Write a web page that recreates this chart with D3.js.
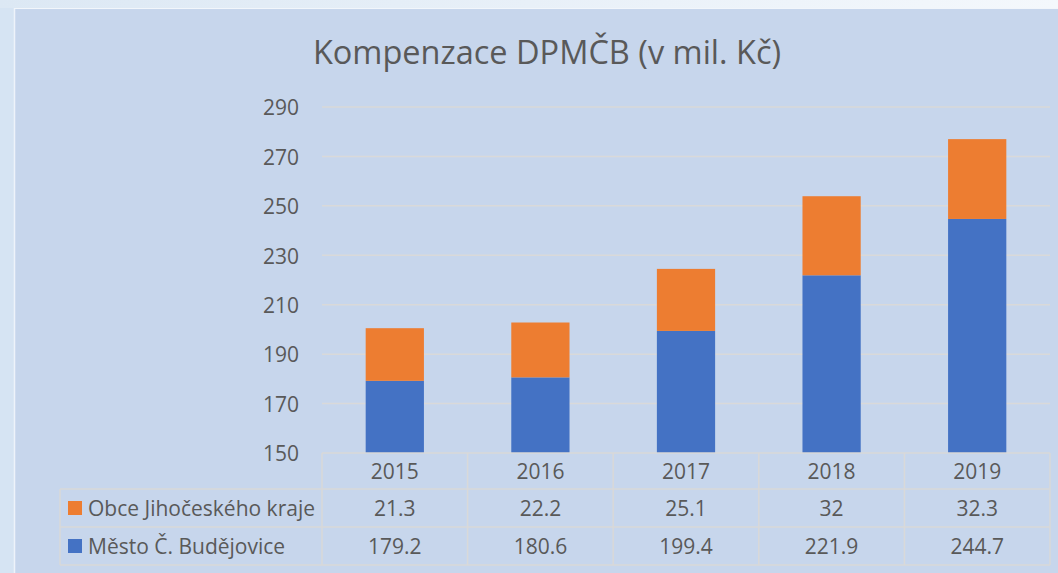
<!DOCTYPE html>
<html><head><meta charset="utf-8">
<script src="https://cdn.jsdelivr.net/npm/d3@7"></script>
<style>
html,body{margin:0;padding:0;background:#d6e4f3;}
svg{display:block;font-family:"Open Sans",sans-serif;}
</style></head>
<body>
<svg id="c" width="1058" height="573"></svg>
<script>
const years = ["2015","2016","2017","2018","2019"];
const seriesNames = ["Obce Jihočeského kraje","Město Č. Budějovice"];
const obce = [21.3,22.2,25.1,32,32.3];
const mesto = [179.2,180.6,199.4,221.9,244.7];
const yTicks = [150,170,190,210,230,250,270,290];
const colors = ["#ed7d31","#4472c4"];
const title = "Kompenzace DPMČB (v mil. Kč)";

const svg = d3.select("#c");
const defs = svg.append("defs");
const g1 = defs.append("linearGradient").attr("id","top").attr("x1",0).attr("x2",1);
g1.append("stop").attr("offset","0").attr("stop-color","#dce8f4");
g1.append("stop").attr("offset","1").attr("stop-color","#f4f8fc");
svg.append("rect").attr("x",0).attr("y",0).attr("width",1058).attr("height",8).attr("fill","url(#top)");
svg.append("rect").attr("x",14).attr("y",8).attr("width",1044).attr("height",565).attr("fill","#c7d6ec");
svg.append("line").attr("x1",14.5).attr("x2",14.5).attr("y1",8).attr("y2",573).attr("stroke","#eef3fa").attr("stroke-width",1.5);
svg.append("line").attr("x1",14).attr("x2",1058).attr("y1",8.5).attr("y2",8.5).attr("stroke","#f2f6fb").attr("stroke-width",1);

const x0 = 322, x1 = 1050, yTop = 107, yBot = 453;
const x = d3.scaleBand().domain(years).range([x0,x1]).paddingInner(0).paddingOuter(0);
const y = d3.scaleLinear().domain([150,290]).range([yBot,yTop]);
const textCol = "#595959";
const fs = 21;

svg.append("text").attr("x",547).attr("y",64).attr("text-anchor","middle")
  .attr("font-size",32.5).attr("fill",textCol).text(title);

// gridlines
svg.append("g").selectAll("line").data(yTicks.slice(1)).join("line")
  .attr("x1",x0).attr("x2",x1).attr("y1",d=>y(d)).attr("y2",d=>y(d))
  .attr("stroke","#d9d9d9").attr("stroke-width",1.5);

// y axis labels
const yAxis = d3.axisLeft(y).tickValues(yTicks).tickSize(0).tickPadding(23);
const ya = svg.append("g").attr("transform",`translate(${x0},0)`).call(yAxis);
ya.select(".domain").remove();
ya.selectAll("text").attr("font-size",fs).attr("fill",textCol).attr("dy","0.37em")
  .attr("font-family","'Open Sans',sans-serif");

// bars
const bw = x.bandwidth()*0.4;
const data = years.map((yr,i)=>({yr, m:mesto[i], o:obce[i]}));
svg.append("g").selectAll("rect").data(data).join("rect")
  .attr("x",d=>x(d.yr)+(x.bandwidth()-bw)/2).attr("width",bw)
  .attr("y",d=>y(d.m)).attr("height",d=>y(150)-y(d.m)).attr("fill",colors[1]);
svg.append("g").selectAll("rect").data(data).join("rect")
  .attr("x",d=>x(d.yr)+(x.bandwidth()-bw)/2).attr("width",bw)
  .attr("y",d=>y(d.m+d.o)).attr("height",d=>y(d.m)-y(d.m+d.o)).attr("fill",colors[0]);

// data table
const rowY = [453,489,527,565];
const tl = 60;
const gc = "#d9d9d9";
const tg = svg.append("g").attr("stroke",gc).attr("stroke-width",1.5).attr("fill","none");
tg.append("line").attr("x1",x0).attr("x2",x1).attr("y1",rowY[0]).attr("y2",rowY[0]);
[1,2,3].forEach(i=>tg.append("line").attr("x1",tl).attr("x2",x1).attr("y1",rowY[i]).attr("y2",rowY[i]));
tg.append("line").attr("x1",tl).attr("x2",tl).attr("y1",rowY[1]).attr("y2",rowY[3]);
const vx = years.map(d=>x(d)).concat([x1]);
vx.forEach(v=>tg.append("line").attr("x1",v).attr("x2",v).attr("y1",rowY[0]).attr("y2",rowY[3]));

svg.append("g").selectAll("text").data(years).join("text")
  .attr("x",d=>x(d)+x.bandwidth()/2).attr("y",(rowY[0]+rowY[1])/2+8)
  .attr("text-anchor","middle").attr("font-size",fs).attr("fill",textCol).text(d=>d);
const rows = [obce, mesto];
rows.forEach((vals,r)=>{
  const cy = (rowY[r+1]+rowY[r+2])/2;
  svg.append("g").selectAll("text").data(vals).join("text")
    .attr("x",(d,i)=>x(years[i])+x.bandwidth()/2).attr("y",cy+8)
    .attr("text-anchor","middle").attr("font-size",fs).attr("fill",textCol).text(d=>String(d));
  svg.append("rect").attr("x",68).attr("y",cy-7).attr("width",14).attr("height",14).attr("fill",colors[r]);
  svg.append("text").attr("x",88).attr("y",cy+8).attr("font-size",fs).attr("fill",textCol).text(seriesNames[r]);
});
</script>
</body></html>
